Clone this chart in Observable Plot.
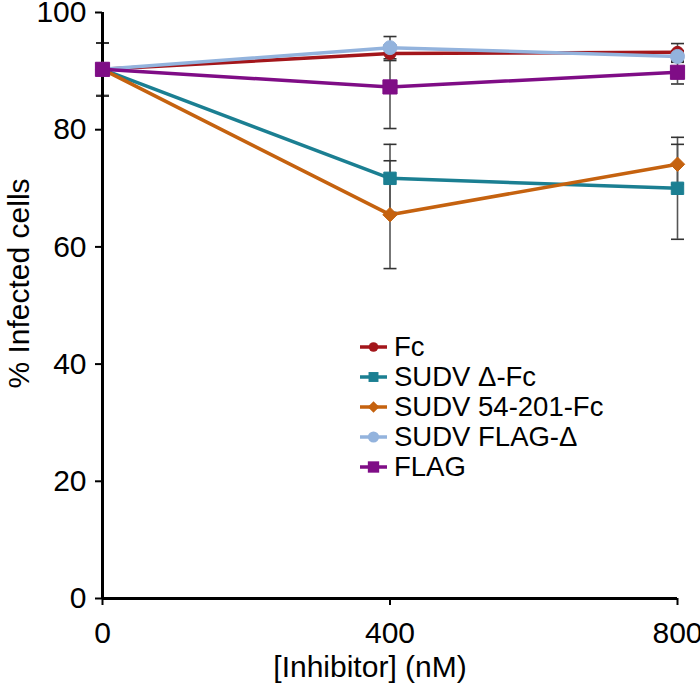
<!DOCTYPE html>
<html>
<head>
<meta charset="utf-8">
<script src="https://cdn.jsdelivr.net/npm/d3@7"></script>
<script src="https://cdn.jsdelivr.net/npm/@observablehq/plot@0.6"></script>
<style>
  body { margin: 0; background: #fff; font-family: "Liberation Sans", Arial, sans-serif; }
  #wrap { position: relative; width: 700px; height: 684px; }
  #legend { position: absolute; left: 358px; top: 332px; font-size: 27.5px; color: #000; }
  #legend .row { height: 30px; line-height: 30px; display: flex; align-items: center; white-space: nowrap; }
  #legend svg { margin-right: 5px; }
</style>
</head>
<body>
<div id="wrap"></div>
<script>
// ---- data ----
const concentrations = [0, 400, 800];
const seriesNames = ["Fc", "SUDV \u0394-Fc", "SUDV 54-201-Fc", "SUDV FLAG-\u0394", "FLAG"];
const fcValues = [90.3, 93.0, 93.2];
const fcErrors = [4.5, 1.2, 1.5];
const deltaFcValues = [90.3, 71.7, 70.0];
const deltaFcErrors = [4.5, 5.8, 8.7];
const fc54201Values = [90.3, 65.5, 74.1];
const fc54201Errors = [4.5, 9.2, 3.4];
const flagDeltaValues = [90.3, 94.0, 92.5];
const flagDeltaErrors = [4.5, 1.9, 1.0];
const flagValues = [90.3, 87.3, 89.8];
const flagErrors = [4.5, 7.1, 2.0];
const yTicks = [0, 20, 40, 60, 80, 100];
const xTicks = [0, 400, 800];
const xLabel = "[Inhibitor] (nM)";
const yLabel = "% Infected cells";

// ---- styles ----
const seriesColors = ["#a3161b", "#1b7f92", "#c5620f", "#93b3dd", "#7f0d86"];
const seriesSymbols = ["circle", "square", "diamond2", "circle", "square"];
const seriesR = [6, 7, 6.5, 7, 8];

const valueSets = [fcValues, deltaFcValues, fc54201Values, flagDeltaValues, flagValues];
const errorSets = [fcErrors, deltaFcErrors, fc54201Errors, flagDeltaErrors, flagErrors];

const rows = [];
seriesNames.forEach((name, i) => {
  concentrations.forEach((c, j) => {
    rows.push({series: name, x: c, y: valueSets[i][j], err: errorSets[i][j], idx: i});
  });
});

const capSymbol = {
  draw(ctx, size) {
    const r = Math.sqrt(size / Math.PI);
    ctx.moveTo(-r, 0);
    ctx.lineTo(r, 0);
  }
};

const marks = [
  Plot.ruleX(rows, {x: "x", y1: d => d.y - d.err, y2: d => d.y + d.err, stroke: "#555", strokeWidth: 1.6}),
  Plot.dot(rows, {x: "x", y: d => d.y + d.err, symbol: capSymbol, r: 6.5, stroke: "#333", strokeWidth: 1.6, fill: "none"}),
  Plot.dot(rows, {x: "x", y: d => d.y - d.err, symbol: capSymbol, r: 6.5, stroke: "#333", strokeWidth: 1.6, fill: "none"}),
  Plot.ruleX([0], {stroke: "#000", strokeWidth: 3}),
  Plot.ruleY([0], {stroke: "#000", strokeWidth: 3}),
  Plot.axisY({ticks: yTicks, tickSize: 7, tickPadding: 9, fontSize: 30, label: null, stroke: "#000", strokeWidth: 2}),
  Plot.axisX({ticks: xTicks, tickSize: 7, tickPadding: 16, fontSize: 30, label: null, stroke: "#000", strokeWidth: 2}),
  Plot.text([yLabel], {frameAnchor: "left", dx: -83, dy: -22, rotate: -90, fontSize: 30, textAnchor: "middle", lineAnchor: "middle"}),
  Plot.text([xLabel], {frameAnchor: "bottom", dx: -20, dy: 69, fontSize: 30, textAnchor: "middle", lineAnchor: "middle"})
];

seriesNames.forEach((name, i) => {
  const sub = rows.filter(d => d.idx === i);
  marks.push(Plot.line(sub, {x: "x", y: "y", stroke: seriesColors[i], strokeWidth: 3.5}));
  marks.push(Plot.dot(sub, {x: "x", y: "y", symbol: seriesSymbols[i], r: seriesR[i], fill: seriesColors[i], stroke: seriesColors[i], strokeWidth: 1}));
});

const chart = Plot.plot({
  width: 700,
  height: 684,
  marginLeft: 102,
  marginRight: 23,
  marginTop: 12,
  marginBottom: 86,
  style: {fontFamily: "'Liberation Sans', Arial, sans-serif", color: "#000", background: "#fff", overflow: "visible"},
  x: {domain: [0, 800]},
  y: {domain: [0, 100]},
  marks
});

const wrap = document.getElementById("wrap");
wrap.appendChild(chart);

// ---- legend ----
const legend = document.createElement("div");
legend.id = "legend";
seriesNames.forEach((name, i) => {
  const row = document.createElement("div");
  row.className = "row";
  const ns = "http://www.w3.org/2000/svg";
  const svg = document.createElementNS(ns, "svg");
  svg.setAttribute("width", 31);
  svg.setAttribute("height", 20);
  const line = document.createElementNS(ns, "line");
  line.setAttribute("x1", 2); line.setAttribute("x2", 29);
  line.setAttribute("y1", 10); line.setAttribute("y2", 10);
  line.setAttribute("stroke", seriesColors[i]); line.setAttribute("stroke-width", 3.5);
  svg.appendChild(line);
  const sym = document.createElementNS(ns, "path");
  const symType = {circle: d3.symbolCircle, square: d3.symbolSquare, diamond2: d3.symbolDiamond2}[seriesSymbols[i]];
  const size = Math.PI * Math.pow(seriesR[i] * 0.8, 2);
  sym.setAttribute("d", d3.symbol(symType, size)());
  sym.setAttribute("transform", "translate(15.5,10)");
  sym.setAttribute("fill", seriesColors[i]);
  svg.appendChild(sym);
  row.appendChild(svg);
  const span = document.createElement("span");
  span.textContent = name;
  row.appendChild(span);
  legend.appendChild(row);
});
wrap.appendChild(legend);
</script>
</body>
</html>
